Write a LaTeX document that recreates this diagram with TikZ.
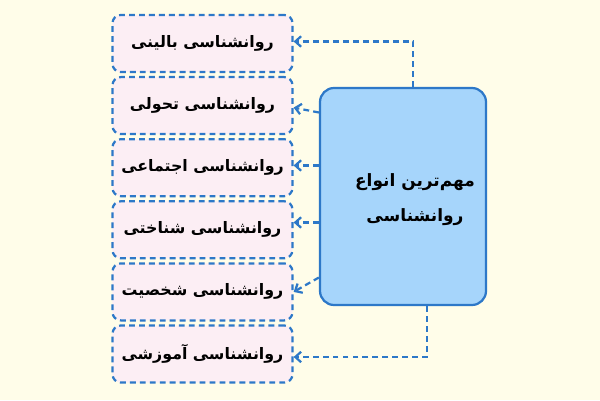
\documentclass[tikz,border=0pt]{standalone}
\usepackage{fontspec}
\usepackage{xcolor}
\usetikzlibrary{positioning,calc,arrows.meta}
\TeXXeTstate=1
\newfontfamily\farsifont[Script=Arabic]{DejaVu Sans}
\definecolor{bgpaper}{HTML}{FFFDE9}
\definecolor{linkblue}{HTML}{2D78C8}
\definecolor{mainfill}{HTML}{A6D5FB}
\definecolor{typefill}{HTML}{FCEEF4}

\begin{document}
\begin{tikzpicture}[x=0.03cm, y=-0.03cm,
  typebox/.style={draw=linkblue, fill=typefill, line width=1.9pt, dash pattern=on 5pt off 3.5pt,
    rounded corners=7pt, minimum width=5.4cm, minimum height=1.71cm, inner sep=0pt,
    font=\farsifont\bfseries\fontsize{13.5}{17}\selectfont},
  mainbox/.style={draw=linkblue, fill=mainfill, line width=1.9pt, rounded corners=12pt,
    minimum width=4.98cm, minimum height=6.51cm, inner sep=0pt},
  maintext/.style={align=center, inner sep=0pt,
    font=\farsifont\bfseries\fontsize{14.5}{30}\selectfont},
  linkarrow/.style={draw=linkblue, line width=1.9pt, dash pattern=on 5pt off 3.5pt,
    -{Straight Barb[length=5pt,width=9pt]}}]
  \fill[bgpaper] (0,0) rectangle (600,400);

  % main box
  \node[mainbox] (main) at (403,196.5) {};
  \node[maintext] (title) at ($(main.center)+(12,3)$) {\beginR مهم‌ترین انواع\endR\\\beginR روانشناسی\endR};

  % types
  \node[typebox] (b1) at (202.5,43.5) {\beginR روانشناسی بالینی\endR};
  \node[typebox] (b2) at (202.5,105.6) {\beginR روانشناسی تحولی\endR};
  \node[typebox] (b3) at (202.5,167.7) {\beginR روانشناسی اجتماعی\endR};
  \node[typebox] (b4) at (202.5,229.8) {\beginR روانشناسی شناختی\endR};
  \node[typebox] (b5) at (202.5,291.9) {\beginR روانشناسی شخصیت\endR};
  \node[typebox] (b6) at (202.5,354) {\beginR روانشناسی آموزشی\endR};

  % links
  \coordinate (c2) at ($(main.west)+(0,-84)$);
  \coordinate (c3) at ($(main.west)+(0,-31)$);
  \coordinate (c4) at ($(main.west)+(0,26)$);
  \coordinate (c5) at ($(main.west)+(0,81)$);
  \draw[linkarrow] ($(main.north)+(10,0)$) |- ($(b1.east)+(0,-2)$);
  \draw[linkarrow] (c2) -- ($(b2.east)+(0,2)$);
  \draw[linkarrow] (c3) -- (c3 -| b3.east);
  \draw[linkarrow] (c4) -- (c4 -| b4.east);
  \draw[linkarrow] (c5) -- (b5.east);
  \draw[linkarrow] ($(main.south)+(24,0)$) |- ($(b6.east)+(0,3)$);
\end{tikzpicture}
\end{document}
